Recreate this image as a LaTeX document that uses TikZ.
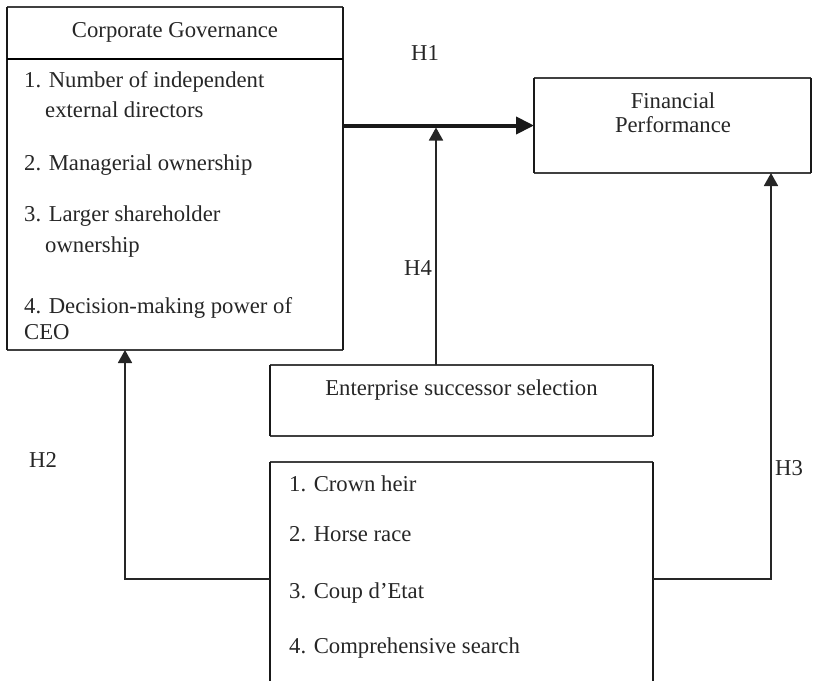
\documentclass[tikz,border=0pt]{standalone}
\usepackage{fontspec}
\setmainfont{Liberation Serif}
\usetikzlibrary{arrows.meta}
\begin{document}
\begin{tikzpicture}[x=1pt,y=-1pt,
  area/.style={draw=none,inner sep=0pt,outer sep=0pt},
  side/.style={line width=2.6pt,draw=black!90},
  rim/.style={line width=1.2pt,draw=black!75},
  txt/.style={font=\fontsize{22.7}{26}\selectfont,inner sep=0pt,text=black!85},
  conn/.style={line width=1.8pt,draw=black!85,-{Triangle[length=13pt,width=14pt]}},
  mainconn/.style={line width=4pt,draw=black!90,-{Triangle[length=18pt,width=17pt]}}
]
\useasboundingbox (0,0) rectangle (823,681);

% boxes
\node[area,minimum width=336pt,minimum height=343pt] (cg) at (175,178.5) {};
\node[area,minimum width=277pt,minimum height=95pt] (fp) at (672.5,125.5) {};
\node[area,minimum width=383pt,minimum height=71pt] (ess) at (461.5,400.5) {};
\node[area,minimum width=383pt,minimum height=219pt] (lst) at (461.5,571.5) {};

% box outlines
\draw[rim] (cg.north west) -- (cg.north east);
\draw[rim] (cg.south west) -- (cg.south east);
\draw[side] (cg.north west) -- (cg.south west);
\draw[side] (cg.north east) -- (cg.south east);
\coordinate (sepl) at (7,59);
\draw[line width=1.2pt] (sepl) -- (sepl -| cg.east);

\draw[rim] (fp.north west) -- (fp.north east);
\draw[rim] (fp.south west) -- (fp.south east);
\draw[side] (fp.north west) -- (fp.south west);
\draw[side] (fp.north east) -- (fp.south east);

\draw[rim] (ess.north west) -- (ess.north east);
\draw[rim] (ess.south west) -- (ess.south east);
\draw[side] (ess.north west) -- (ess.south west);
\draw[side] (ess.north east) -- (ess.south east);

\draw[rim] (lst.north west) -- (lst.north east);
\draw[side] (lst.north west) -- (lst.south west);
\draw[side] (lst.north east) -- (lst.south east);

% texts
\node[txt,anchor=base] (cgh) at (175,37) {Corporate Governance};
\node[txt,anchor=base west] (cg1a) at (24,87) {1. Number of independent};
\node[txt,anchor=base west] (cg1b) at (45,117) {external directors};
\node[txt,anchor=base west] (cg2) at (24,170) {2. Managerial ownership};
\node[txt,anchor=base west] (cg3a) at (24,221) {3. Larger shareholder};
\node[txt,anchor=base west] (cg3b) at (45,252) {ownership};
\node[txt,anchor=base west] (cg4a) at (24,313) {4. Decision-making power of};
\node[txt,anchor=base west] (cg4b) at (24,339) {CEO};

\node[txt,anchor=base] (fp1) at (673,108) {Financial};
\node[txt,anchor=base] (fp2) at (673,132) {Performance};

\node[txt,anchor=base] (esst) at (461.5,395) {Enterprise successor selection};

\node[txt,anchor=base west] (l1) at (289,491) {1. Crown heir};
\node[txt,anchor=base west] (l2) at (289,541) {2. Horse race};
\node[txt,anchor=base west] (l3) at (289,598) {3. Coup d’Etat};
\node[txt,anchor=base west] (l4) at (289,653) {4. Comprehensive search};

\node[txt] (h1) at (425,53) {H1};
\node[txt] (h2) at (43,460) {H2};
\node[txt] (h3) at (789,468) {H3};
\node[txt] (h4) at (418,268) {H4};

% connectors
\draw[mainconn] (cg.east |- fp.west) -- (fp.west);
\coordinate (h4b) at (436,365);
\draw[conn,shorten >=2pt] (h4b) -- (h4b |- fp.west);
\coordinate (h2c) at (125,579);
\draw[conn] (h2c -| lst.west) -- (h2c) -- (h2c |- cg.south);
\coordinate (h3c) at (771,579);
\draw[conn] (h3c -| lst.east) -- (h3c) -- (h3c |- fp.south);
\end{tikzpicture}
\end{document}
